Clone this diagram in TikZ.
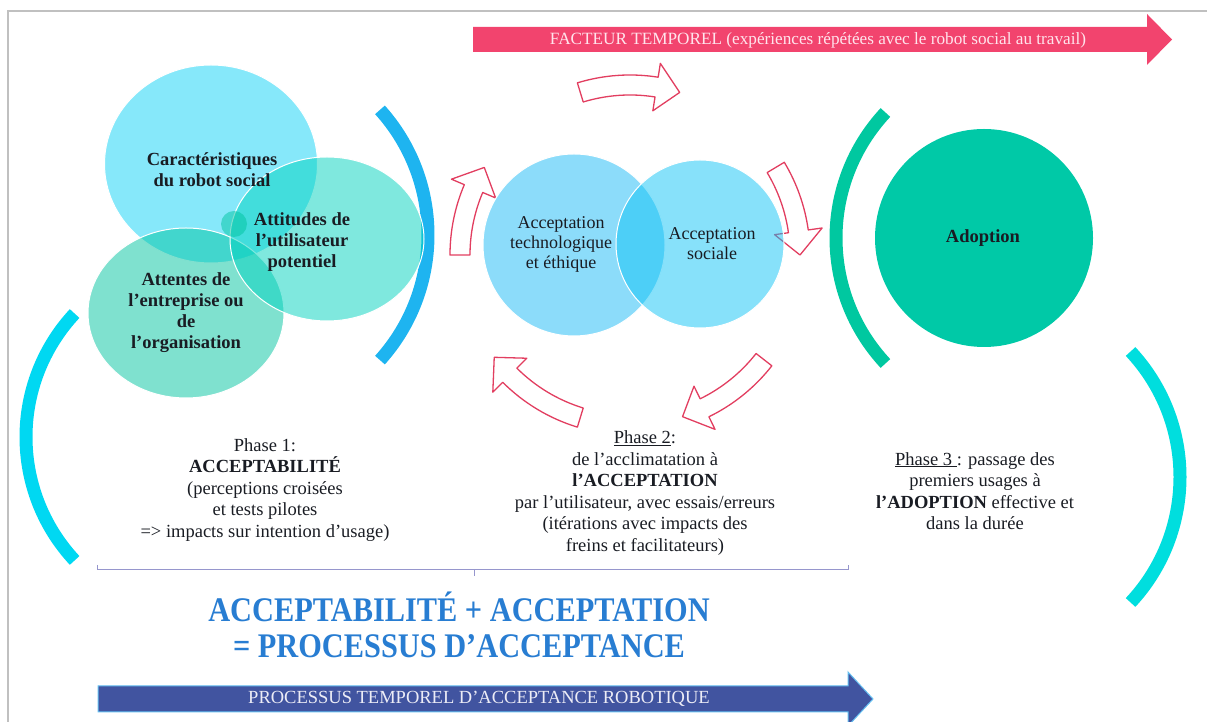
\documentclass[tikz,border=0pt]{standalone}
\usepackage{fontspec}
\setmainfont{Liberation Serif}
\newfontfamily\tallfont[FakeStretch=0.88]{Liberation Serif}
\usepackage{tikz}
\usetikzlibrary{positioning,shapes.geometric}
\definecolor{framegray}{RGB}{192,192,192}
\definecolor{inkclr}{RGB}{25,28,35}
\definecolor{timeclr}{RGB}{242,68,110}
\definecolor{timetxt}{RGB}{255,228,236}
\definecolor{procclr}{RGB}{65,84,160}
\definecolor{procline}{RGB}{100,190,240}
\definecolor{proctxt}{RGB}{236,236,246}
\definecolor{titleclr}{RGB}{40,125,210}
\definecolor{brkclr}{RGB}{150,150,205}
\definecolor{cycclr}{RGB}{226,62,96}
\definecolor{robotclr}{RGB}{14,210,245}
\definecolor{userclr}{RGB}{0,210,190}
\definecolor{firmclr}{RGB}{0,195,160}
\definecolor{techclr}{RGB}{25,185,245}
\definecolor{socclr}{RGB}{15,195,245}
\definecolor{adoptclr}{RGB}{0,201,167}
\definecolor{ringblue}{RGB}{30,180,240}
\definecolor{ringcyan}{RGB}{0,216,242}
\definecolor{ringteal}{RGB}{0,200,160}
\definecolor{ringaqua}{RGB}{0,222,222}
\tikzset{ %
  ,every node/.style={font=\fontsize{18.5}{21.5}\selectfont, text=inkclr}
  ,blob/.style={ellipse, draw=white, line width=1pt, fill opacity=0.5, inner sep=0}
  ,blobtxt/.style={font=\bfseries\fontsize{18.5}{21}\selectfont, align=center, inner sep=0}
  ,midtxt/.style={font=\fontsize{18}{20}\selectfont, align=center, inner sep=0}
  ,phase/.style={align=center, inner sep=0}
  ,ring/.style={line width=13pt}
  ,cycarrow/.style={draw=cycclr, line width=1.3pt, fill=white, line join=round}
  ,brk/.style={draw=brkclr, line width=1pt}
}

\begin{document}
\begin{tikzpicture}[x=1pt, y=1pt]
  \useasboundingbox (0,0) rectangle (1207,722);
  % frame
  \draw[framegray, line width=2pt] (8,0) -- (8,711) -- (1207,711);

  % time arrow on top
  \fill[timeclr] (473,670) -- (1147,670) -- (1147,657) -- (1172,682.5)
    -- (1147,708) -- (1147,695) -- (473,695) -- cycle;
  \node[font=\fontsize{17.2}{19}\selectfont, text=timetxt] (temps) at (818,682)
    {FACTEUR TEMPOREL (expériences répétées avec le robot social au travail)};

  % process arrow at the bottom
  \filldraw[fill=procclr, draw=procline, line width=1pt] (98,10) -- (848,10) -- (848,-4)
    -- (873,23) -- (848,50) -- (848,36) -- (98,36) -- cycle;
  \node[text=proctxt] (proc) at (479,23) {PROCESSUS TEMPOREL D’ACCEPTANCE ROBOTIQUE};

  % rings
  \draw[ring, ringblue] (241,487) ++(-42:187) arc[start angle=-42, end angle=42, radius=187];
  \draw[ring, ringcyan] (207,285) ++(137:181) arc[start angle=137, end angle=223, radius=181];
  \draw[ring, ringteal] (1020,484) ++(137:184) arc[start angle=137, end angle=223, radius=184];
  \draw[ring, ringaqua] (996,245) ++(-43:184) arc[start angle=-43, end angle=43, radius=184];

  % phase 1 cluster
  \node[blob, fill=robotclr, minimum width=213pt, minimum height=198pt] (robot) at (211,558) {};
  \node[blob, fill=firmclr, minimum width=196pt, minimum height=170pt] (firm) at (186,409) {};
  \node[blob, fill=userclr, minimum width=194pt, minimum height=164pt] (user) at (327,483) {};
  \node[circle, fill=firmclr, fill opacity=0.5, minimum size=26pt, inner sep=0] (core) at (234,498) {};
  \node[blobtxt] (robottxt) at (212,552) {Caractéristiques\\du robot social};
  \node[blobtxt] (usertxt) at (302,480) {Attitudes de\\l’utilisateur\\potentiel};
  \node[blobtxt] (firmtxt) at (186,409) {Attentes de\\l’entreprise ou\\de\\l’organisation};

  % phase 2 cycle
  \begin{scope}[shift={(630,467)}]
    \foreach \a/\b in {107/73, 31/0, -38/-72, -107/-143, 180/149}{
      \draw[cycarrow] (\a:160) arc[start angle=\a, end angle=\b+8, radius=160]
        -- (\b+8:146) -- (\b:170) -- (\b+8:194) -- (\b+8:180)
        arc[start angle=\b+8, end angle=\a, radius=180] -- cycle;
    }
  \end{scope}
  \node[circle, draw=white, line width=1pt, fill=techclr, fill opacity=0.5, minimum size=182pt, inner sep=0] (tech) at (574,477) {};
  \node[circle, draw=white, line width=1pt, fill=socclr, fill opacity=0.5, minimum size=168pt, inner sep=0] (soc) at (700,478) {};
  \node[midtxt] (techtxt) at (561,478) {Acceptation\\technologique\\et éthique};
  \node[midtxt] (soctxt) at (712,478) {Acceptation\\sociale};

  % phase 3
  \node[circle, fill=adoptclr, minimum size=218pt, inner sep=0] (adopt) at (984,484) {};
  \node[blobtxt] (adopttxt) at (983,484) {Adoption};

  % phase texts
  \node[phase] (ph1) at (265,232) {Phase 1:\\\textbf{ACCEPTABILITÉ}\\(perceptions croisées\\et tests pilotes\\=> impacts sur intention d’usage)};
  \node[phase] (ph2) at (645,229) {\underline{Phase 2}:\\de l’acclimatation à\\\textbf{l’ACCEPTATION}\\par l’utilisateur, avec essais/erreurs\\(itérations avec impacts des\\freins et facilitateurs)};
  \node[phase] (ph3) at (975,231) {\underline{Phase 3 }: passage des\\premiers usages à\\\textbf{l’ADOPTION} effective et\\dans la durée};

  % brace under phases 1 and 2
  \draw[brk] (97,157) -- (97,152) -- (848,152) -- (848,157);
  \draw[brk] (474,152) -- (474,146);

  % summary
  \node[align=center, text=titleclr, font=\tallfont\bfseries\fontsize{34.5}{36}\selectfont] (sum) at (459,97)
    {ACCEPTABILITÉ + ACCEPTATION\\= PROCESSUS D’ACCEPTANCE};
\end{tikzpicture}
\end{document}
